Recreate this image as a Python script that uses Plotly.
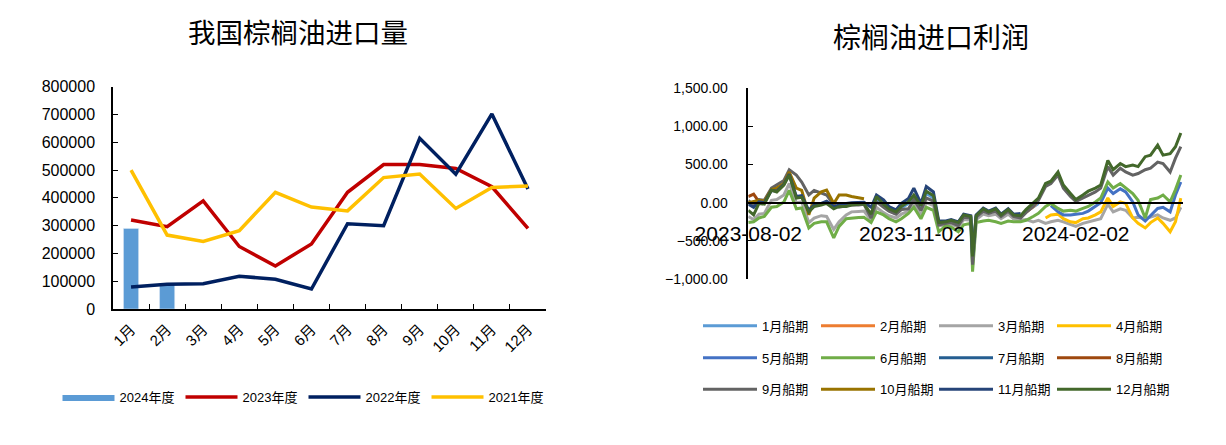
import plotly.graph_objects as go

# ---------------- Left chart data ----------------
months = ["1月", "2月", "3月", "4月", "5月", "6月", "7月", "8月", "9月", "10月", "11月", "12月"]
imp_2024 = [290000, 88000]
imp_2023 = [320000, 296000, 389000, 225000, 155000, 234000, 420000, 520000, 520000, 506000, 440000, 290000]
imp_2022 = [79000, 89000, 91000, 118000, 107000, 72000, 307000, 300000, 614000, 485000, 702000, 432000]
imp_2021 = [500000, 266000, 243000, 282000, 420000, 367000, 353000, 473000, 486000, 362000, 437000, 443000]
left_ticks = [0, 100000, 200000, 300000, 400000, 500000, 600000, 700000, 800000]

# ---------------- Right chart data ----------------
dates = ["2023-08-02", "2023-08-05", "2023-08-08", "2023-08-11", "2023-08-15", "2023-08-18", "2023-08-22",
         "2023-08-25", "2023-08-29", "2023-09-01", "2023-09-05", "2023-09-08", "2023-09-12", "2023-09-15",
         "2023-09-19", "2023-09-22", "2023-09-26", "2023-09-29", "2023-10-03", "2023-10-06", "2023-10-10",
         "2023-10-13", "2023-10-17", "2023-10-20", "2023-10-24", "2023-10-27", "2023-10-31", "2023-11-03",
         "2023-11-07", "2023-11-10", "2023-11-14", "2023-11-17", "2023-11-21", "2023-11-24", "2023-11-28",
         "2023-12-01", "2023-12-05", "2023-12-06", "2023-12-08", "2023-12-12", "2023-12-15", "2023-12-19",
         "2023-12-22", "2023-12-26", "2023-12-29", "2024-01-02", "2024-01-05", "2024-01-09", "2024-01-12",
         "2024-01-16", "2024-01-19", "2024-01-23", "2024-01-26", "2024-01-30", "2024-02-02", "2024-02-06",
         "2024-02-09", "2024-02-13", "2024-02-16", "2024-02-20", "2024-02-23", "2024-02-27", "2024-03-01",
         "2024-03-05", "2024-03-08", "2024-03-12", "2024-03-15", "2024-03-19", "2024-03-22", "2024-03-26",
         "2024-03-29", "2024-04-01"]
N = None
p01 = [N]*20 + [-180, 40, -40, -100, -140, -70, -10, 80, -60, 120, 60, -270, -260, -240, -270, -170, -190,
                -750, -180, -100, -130, -100, -170, -100, -170, -180, -120, -60, -10] + [N]*23
p02 = [N]*41 + [-105, -175, -105, -175, -190, -125, -55, 20] + [N]*23
p03 = [-180, -220, -150, -140, 30, 40, 100, 250, 0, 10, -260, -200, -170, -180, -350, -250, -160, -120,
       -115, -110, -230, -60, -130, -170, -200, -150, -110, -20, -160, 0, -40, -300, -290, -280, -320, -220,
       -230, -820, -220, -150, -170, -150, -210, -150, -210, -230, -220, -250, -230, -270, -250, -230, -250,
       -290, -310, -270, -250, -230, -210, -20, -120, -80, -100, -200, -190, -210, -190, -160, -200, -230,
       -200, -60]
p04 = [N]*49 + [-200, -160, -150, -210, -250, -260, -210, -200, -160, -120, 60, -50, 10, -10, -200, -270,
                -330, -260, -200, -270, -380, -250, 60]
p05 = [N]*50 + [-40, -120, -160, -160, -150, -140, -110, -50, 0, 190, 120, 180, 140, 10, -160, -240, -170,
                -75, -60, -120, 100, 270]
p06 = [-260, -250, -200, -180, -60, -50, 10, 160, -80, -70, -330, -270, -250, -250, -460, -310, -210, -200,
       -195, -190, -260, -120, -160, -210, -250, -210, -140, -60, -210, -60, -100, -380, -300, -320, -380,
       -290, -270, -900, -260, -240, -230, -250, -270, -240, -250, -250, -230, -180, -140, -50, -10, -75,
       -110, -100, -110, -75, -50, 10, 60, 270, 190, 250, 190, 120, 30, -200, 40, 60, 100, 10, 170, 360]
p07 = [N]*10 + [-110, -40, -20, 10, -60, -40, -20, -10, -5, 0] + [N]*52
p08 = [80, 110, 10] + [N]*69
p09 = [30, -40, 40, 30, 190, 230, 290, 430, 360, 270, 100, 160, 120, 100, -30, -60, -40, -30, -30, -20,
       -200, 10, -60, -110, -150, -90, -80, 40, -100, 60, 20, -290, -270, -260, -300, -190, -200, -810, -190,
       -110, -140, -110, -180, -110, -180, -200, -130, -50, 30, 210, 250, 360, 190, 80, 15, 60, 100, 140, 190,
       470, 360, 450, 400, 360, 380, 430, 450, 530, 510, 400, 580, 730]
p10 = [0, 20, 30, 20, 170, 190, 250, 400, 190, 160, -160, 60, 140, 165, -10, 100, 100, 80, 60, 50] + [N]*52
p11 = [-20, -60, 10, 0, 160, 150, 240, 370, 80, 90, -100, -30, -10, 20, -50, -30, -10, 0, 0, 5, -60, 100,
       35, -50, -95, -10, 55, 190, -10, 210, 140, -240, -240, -220, -250, -150, -170, -690, -160, -70, -110,
       -70, -150, -80, -150, -140] + [N]*26
p12 = [-100, -160, -10, -20, 165, 140, 230, 360, 60, 70, -120, -50, -30, -10, -80, -50, -50, -30, -20, -15,
       -150, 80, -20, -80, -120, -50, 10, 100, -40, 150, 90, -260, -250, -230, -260, -160, -180, -700, -170,
       -80, -120, -80, -160, -90, -160, -170, -90, -10, 60, 250, 280, 400, 230, 120, 40, 100, 150, 190, 230,
       550, 430, 510, 470, 490, 470, 600, 620, 750, 620, 640, 730, 910]
ship_names = ["1月船期", "2月船期", "3月船期", "4月船期", "5月船期", "6月船期",
              "7月船期", "8月船期", "9月船期", "10月船期", "11月船期", "12月船期"]
ship_values = [p01, p02, p03, p04, p05, p06, p07, p08, p09, p10, p11, p12]
ship_colors = ["#5B9BD5", "#ED7D31", "#A5A5A5", "#FFC000", "#4472C4", "#70AD47",
               "#255E91", "#9E480E", "#636363", "#997300", "#264478", "#43682B"]
ship_legend = ["legend2"]*4 + ["legend3"]*4 + ["legend4"]*4
right_ticks = [-1000, -500, 0, 500, 1000, 1500]
date_ticks = ["2023-08-02", "2023-11-02", "2024-02-02"]

W, H = 1226, 445
PAGE_OFFSET = 8  # default body margin of the html page


def px(xp):
    return (xp - PAGE_OFFSET) / W


def py(yp):
    return 1 - (yp - PAGE_OFFSET) / H


NUM = "Liberation Sans, Noto Sans CJK SC, sans-serif"
CJK = "Noto Sans CJK SC, sans-serif"

fig = go.Figure()

# left chart
fig.add_trace(go.Bar(x=months[:len(imp_2024)], y=imp_2024, name="2024年度", marker_color="#5B9BD5",
                     width=0.42, showlegend=False, legendgroup="y2024", xaxis="x", yaxis="y"))
# legend entry for the bar series (filled rectangle swatch)
fig.add_trace(go.Scatter(x=[None], y=[None], name="2024年度", mode="lines", fill="toself",
                         fillcolor="#5B9BD5", line=dict(width=0, color="#5B9BD5"),
                         legendgroup="y2024", legend="legend", xaxis="x", yaxis="y"))
for name, vals, col in [("2023年度", imp_2023, "#C00000"), ("2022年度", imp_2022, "#002060"),
                        ("2021年度", imp_2021, "#FFC000")]:
    fig.add_trace(go.Scatter(x=months, y=vals, name=name, mode="lines",
                             line=dict(color=col, width=3.5), legend="legend", xaxis="x", yaxis="y"))

# right chart
for name, vals, col, lg in zip(ship_names, ship_values, ship_colors, ship_legend):
    fig.add_trace(go.Scatter(x=dates, y=vals, name=name, mode="lines", connectgaps=False,
                             line=dict(color=col, width=3), legend=lg, xaxis="x2", yaxis="y2"))

yl0, yl1 = py(309), py(86.7)
yr0, yr1 = py(279.3), py(87.7)
zero_pos = yr0 + (0 - (-1000)) / 2500 * (yr1 - yr0)

leg_common = dict(orientation="h", xanchor="left", yanchor="middle",
                  font=dict(family=NUM, size=13, color="black"),
                  bgcolor="rgba(0,0,0,0)", traceorder="normal")

fig.update_layout(
    width=W, height=H, margin=dict(l=0, r=0, t=0, b=0, autoexpand=False),
    paper_bgcolor="white", plot_bgcolor="white",
    xaxis=dict(domain=[px(113), px(546)], type="category", categoryorder="array", categoryarray=months,
               range=[-0.5, 11.5], tickson="boundaries", ticks="inside", ticklen=5, tickcolor="black",
               showline=True, linecolor="black", linewidth=1.5, showgrid=False, tickangle=-45,
               tickfont=dict(family=NUM, size=15, color="black"), ticklabelstandoff=4, anchor="y",
               automargin=False, zeroline=False),
    yaxis=dict(domain=[yl0, yl1], range=[0, 800000], tickvals=left_ticks, tickformat="d",
               ticks="inside", ticklen=5, tickcolor="black", showline=True, linecolor="black",
               linewidth=1.5, showgrid=False, zeroline=False, automargin=False,
               tickfont=dict(family=NUM, size=16, color="black"), ticklabelstandoff=13, anchor="x"),
    xaxis2=dict(domain=[px(748.3), px(1182.6)], type="date", range=["2023-08-02", "2024-04-02"],
                tickvals=date_ticks, ticktext=date_ticks, ticks="", showline=True, linecolor="black",
                linewidth=1.5, showgrid=False, anchor="free", position=zero_pos, automargin=False,
                zeroline=False, tickfont=dict(family=NUM, size=21, color="black"), ticklabelstandoff=12),
    yaxis2=dict(domain=[yr0, yr1], range=[-1000, 1500], tickvals=right_ticks, tickformat=",.2f",
                ticks="inside", ticklen=5, tickcolor="black", showline=True, linecolor="black",
                linewidth=1.5, showgrid=False, zeroline=False, automargin=False,
                tickfont=dict(family=NUM, size=14, color="black"), ticklabelstandoff=16, anchor="x2"),
    legend=dict(x=px(57.5), y=py(397), itemwidth=52, entrywidth=56, **leg_common),
    legend2=dict(x=px(698), y=py(325.7), itemwidth=54, entrywidth=49, **leg_common),
    legend3=dict(x=px(698), y=py(357.7), itemwidth=54, entrywidth=49, **leg_common),
    legend4=dict(x=px(698), y=py(389.3), itemwidth=54, entrywidth=49, **leg_common),
    annotations=[
        dict(text="我国棕榈油进口量", x=px(297.5), y=py(30.5), xref="paper", yref="paper",
             xanchor="center", yanchor="middle", showarrow=False,
             font=dict(family=CJK, size=27.5, color="black")),
        dict(text="棕榈油进口利润", x=px(931), y=py(35.5), xref="paper", yref="paper",
             xanchor="center", yanchor="middle", showarrow=False,
             font=dict(family=CJK, size=28, color="black")),
    ],
)

fig.write_html("out.html")
